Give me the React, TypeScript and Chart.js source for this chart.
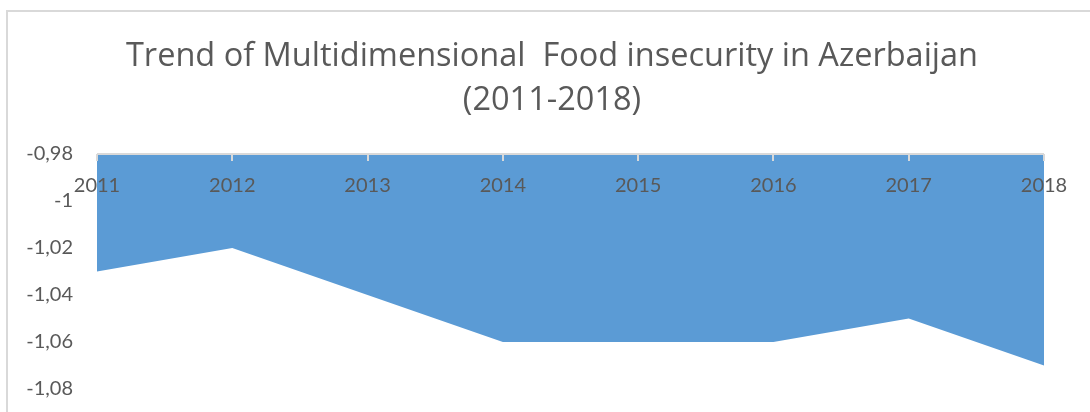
import React, { useEffect, useRef } from "react";
import { Chart, registerables } from "chart.js";

Chart.register(...registerables);

const titleLines = ["Trend of Multidimensional  Food insecurity in Azerbaijan", "(2011-2018)"];
const years = ["2011", "2012", "2013", "2014", "2015", "2016", "2017", "2018"];
const values = [-1.03, -1.02, -1.04, -1.06, -1.06, -1.06, -1.05, -1.07];
const yMin = -1.1;
const yMax = -0.98;
const yStep = 0.02;

const FONT = "Lato, 'Open Sans', sans-serif";
const TITLE_FONT = "'Open Sans', Lato, sans-serif";
const TEXT = "#595959";
const AXIS = "#d9d9d9";

const topAxisPlugin = {
  id: "topAxis",
  afterDatasetsDraw(chart: any) {
    const { ctx, chartArea, scales } = chart;
    const x = scales.x;
    const top = chartArea.top;
    ctx.save();
    ctx.strokeStyle = AXIS;
    ctx.lineWidth = 2;
    ctx.beginPath();
    ctx.moveTo(chartArea.left, top);
    ctx.lineTo(chartArea.right, top);
    ctx.stroke();
    years.forEach((_, i) => {
      const px = Math.round(x.getPixelForValue(i));
      ctx.beginPath();
      ctx.moveTo(px, top);
      ctx.lineTo(px, top + 7);
      ctx.stroke();
    });
    ctx.fillStyle = TEXT;
    ctx.font = `20px ${FONT}`;
    ctx.textAlign = "center";
    ctx.textBaseline = "alphabetic";
    years.forEach((label, i) => {
      ctx.fillText(label, x.getPixelForValue(i), top + 38);
    });
    ctx.restore();
  },
};

export default function App() {
  const ref = useRef<HTMLCanvasElement>(null);
  useEffect(() => {
    if (!ref.current) return;
    const chart = new Chart(ref.current, {
      type: "line",
      data: {
        labels: years,
        datasets: [
          {
            data: values,
            fill: "end",
            backgroundColor: "#5b9bd5",
            borderWidth: 0,
            pointRadius: 0,
            tension: 0,
          },
        ],
      },
      options: {
        responsive: false,
        animation: false,
        layout: { padding: { left: 6, right: 0, top: 0, bottom: 16 } },
        plugins: {
          legend: { display: false },
          tooltip: { enabled: false },
          title: {
            display: true,
            text: titleLines,
            color: TEXT,
            font: { family: TITLE_FONT, size: 32.5, weight: "normal", lineHeight: 1.354 },
            padding: { top: 23, bottom: 31 },
          },
        },
        scales: {
          x: { display: false, offset: false },
          y: {
            min: yMin,
            max: yMax,
            grid: { display: false, drawTicks: false },
            border: { display: false },
            ticks: {
              stepSize: yStep,
              padding: 24,
              color: TEXT,
              font: { family: FONT, size: 20 },
              callback: (v: any) => String(Number(Number(v).toFixed(2))).replace(".", ","),
            },
            afterFit: (s: any) => {
              s.width = 83;
            },
          },
          yRight: {
            position: "right",
            display: true,
            grid: { display: false, drawTicks: false },
            border: { display: false },
            ticks: { display: false },
            afterFit: (s: any) => {
              s.width = 46;
            },
          },
        },
      },
      plugins: [topAxisPlugin],
    });
    return () => chart.destroy();
  }, []);
  return (
    <div
      style={{
        position: "absolute",
        left: 6,
        top: 10,
        width: 1082,
        height: 400,
        overflow: "hidden",
        borderTop: `2px solid ${AXIS}`,
        borderLeft: `2px solid ${AXIS}`,
        background: "#fff",
      }}
    >
      <canvas ref={ref} width={1082} height={460} style={{ display: "block", width: 1082, height: 460 }} />
    </div>
  );
}
